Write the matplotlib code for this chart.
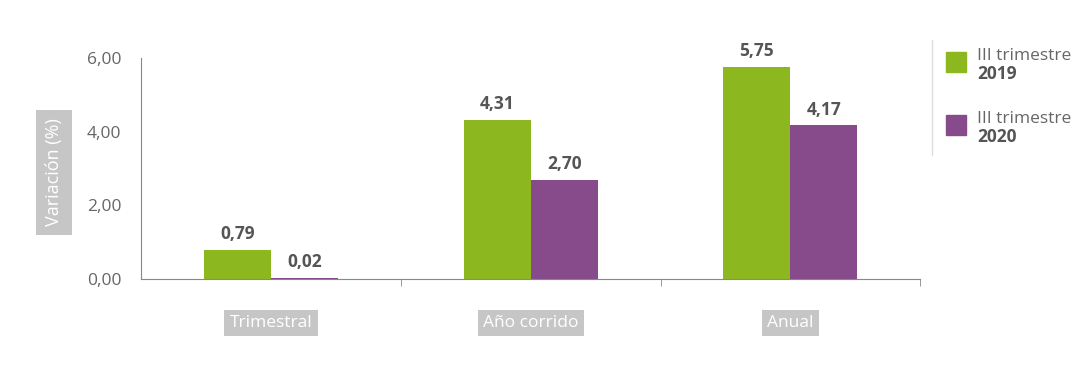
import numpy as np
import matplotlib
matplotlib.use('Agg')
from matplotlib import pyplot as plt
from matplotlib.patches import Rectangle
from matplotlib.lines import Line2D

plt.rcParams['font.family'] = ['Open Sans', 'DejaVu Sans']

# Data
categories = ['Trimestral', 'Año corrido', 'Anual']
serie_2019 = [0.79, 4.31, 5.75]
serie_2020 = [0.02, 2.70, 4.17]
series_names = ['III trimestre\n2019', 'III trimestre\n2020']
colors = ['#8DB71F', '#874A8B']

fig = plt.figure(figsize=(10.8, 3.75), dpi=100)
ax = fig.add_axes([0.1306, 0.256, 0.7215, 0.589])

x = np.arange(len(categories))
w = 0.258
b1 = ax.bar(x - w / 2, serie_2019, w, color=colors[0])
b2 = ax.bar(x + w / 2, serie_2020, w, color=colors[1])

for bars, vals in [(b1, serie_2019), (b2, serie_2020)]:
    for r, v in zip(bars, vals):
        ax.annotate(f'{v:.2f}'.replace('.', ','),
                    (r.get_x() + r.get_width() / 2, v),
                    xytext=(0, 5), textcoords='offset points',
                    ha='center', va='bottom', fontsize=12.5,
                    fontweight='bold', color='#555555')

ax.set_xlim(-0.5, 2.5)
ax.set_ylim(0, 6)
ax.set_yticks([0, 2, 4, 6])
ax.set_yticklabels(['0,00', '2,00', '4,00', '6,00'])
ax.tick_params(axis='y', length=0, pad=14, labelsize=12.5, labelcolor='#666666')

# category separators as minor ticks
ax.set_xticks([])
ax.set_xticks([0.5, 1.5, 2.5], minor=True)
ax.tick_params(axis='x', which='minor', length=5, color='#888888')

for s in ['top', 'right']:
    ax.spines[s].set_visible(False)
ax.spines['left'].set_color('#888888')
ax.spines['bottom'].set_color('#888888')

box = dict(boxstyle='square,pad=0.3', fc='#C6C6C6', ec='none')
for xi, c in zip(x, categories):
    ax.text(xi, -0.2, c, transform=ax.get_xaxis_transform(),
            ha='center', va='center', fontsize=12.5, color='white', bbox=box)

fig.text(0.05, 0.54, 'Variación (%)', rotation=90, ha='center', va='center',
         fontsize=13, color='white', bbox=dict(boxstyle='square,pad=0.5', fc='#C6C6C6', ec='none'))

# legend
fig.add_artist(Line2D([932 / 1080, 932 / 1080], [1 - 40 / 375, 1 - 155 / 375],
                      color='#dddddd', lw=1))
for i, (name, c) in enumerate(zip(series_names, colors)):
    yc = 62 + i * 63
    fig.add_artist(Rectangle((946 / 1080, 1 - (yc + 10) / 375), 20 / 1080, 20 / 375,
                             transform=fig.transFigure, color=c))
    l1, l2 = name.split('\n')
    fig.text(977 / 1080, 1 - (yc - 6) / 375, l1, ha='left', va='center',
             fontsize=12.5, color='#666666')
    fig.text(977 / 1080, 1 - (yc + 12) / 375, l2, ha='left', va='center',
             fontsize=12.5, color='#555555', fontweight='bold')

fig.savefig('out.png', dpi=100, facecolor='white')
